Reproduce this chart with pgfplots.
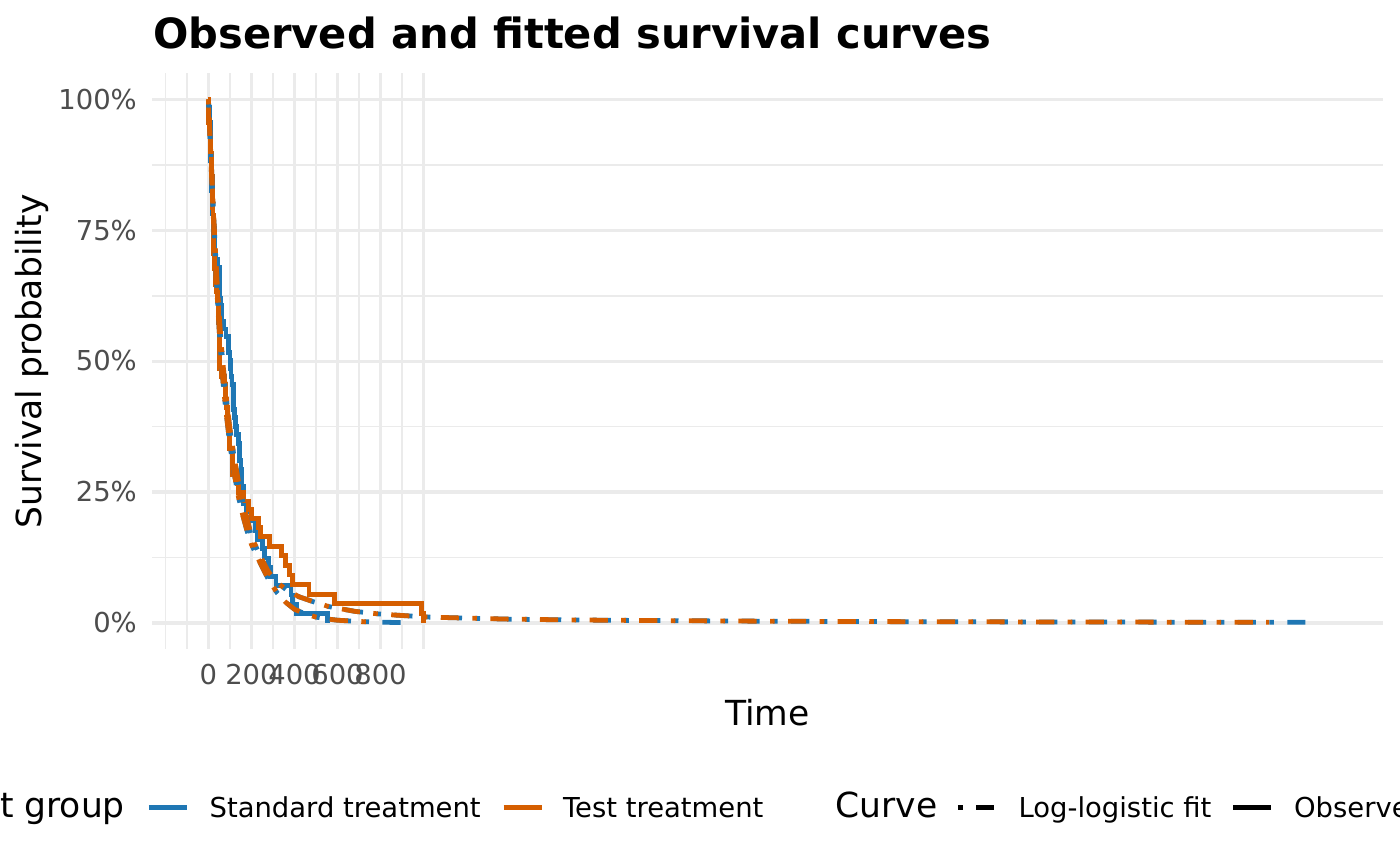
\documentclass[border=0pt]{standalone}
\usepackage{pgfplots}
\pgfplotsset{compat=1.18}
\usepackage{fontspec}
\setmainfont{DejaVu Sans}
\definecolor{tabblue}{HTML}{1F77B4}
\definecolor{vermil}{HTML}{D55E00}
\definecolor{grey30}{HTML}{4D4D4D}
\definecolor{grey92}{HTML}{EBEBEB}
\tikzset{dotdash/.style={dash pattern=on 1.5pt off 4.35pt on 5.9pt off 4.35pt}}
\begin{document}
\begin{tikzpicture}
\begin{axis}[
  at={(49.486pt,70.092pt)}, anchor=south west,
  scale only axis, width=399.30pt, height=186.75pt,
  xmin=-260, xmax=5460, ymin=-0.05, ymax=1.05,
  axis line style={draw=none},
  major tick length=0pt, minor tick length=0pt,
  xtick={0,200,400,600,800,1000},
  xticklabels={0,200,400,600,800,{}},
  minor xtick={-200,-100,100,300,500,700,900},
  ytick={0,0.25,0.5,0.75,1},
  yticklabels={0\%,25\%,50\%,75\%,100\%},
  minor ytick={0.125,0.375,0.625,0.875},
  grid=both,
  major grid style={draw=grey92, line width=1.1pt},
  minor grid style={draw=grey92, line width=0.55pt},
  /pgf/number format/assume math mode=true,
  xticklabel style={font=\fontsize{8.9}{10}\selectfont, text=grey30, anchor=base, inner sep=0pt, outer sep=0pt, yshift=-11.68pt},
  yticklabel style={font=\fontsize{8.9}{10}\selectfont, text=grey30, anchor=base east, inner sep=0pt, outer sep=0pt, xshift=-5.1pt, yshift=-3.15pt},
  clip=true,
]
% Observed KM: Standard treatment
\addplot[tabblue, line width=1.55pt, const plot] coordinates {
(0,1) (3,0.98551) (4,0.97101) (7,0.95652) (8,0.92754) (10,0.89855) (11,0.88406)
(12,0.85507) (13,0.84058) (16,0.82609) (18,0.79710) (20,0.78261) (21,0.76812)
(22,0.75362) (27,0.73885) (30,0.72407) (31,0.70929) (35,0.69452) (42,0.67974)
(51,0.66496) (52,0.65019) (54,0.62064) (56,0.60586) (59,0.59108) (63,0.57631)
(72,0.56153) (82,0.54675) (92,0.53197) (95,0.51720) (100,0.50199) (103,0.48630)
(105,0.47061) (110,0.45492) (117,0.42355) (118,0.40786) (122,0.39217) (126,0.37583)
(132,0.35949) (139,0.34315) (143,0.32681) (144,0.31047) (151,0.29413) (153,0.27779)
(156,0.26145) (162,0.22877) (177,0.21243) (200,0.19473) (216,0.17702) (228,0.15932)
(250,0.14162) (260,0.12392) (278,0.10621) (287,0.08851) (314,0.07081) (384,0.05311)
(392,0.03540) (411,0.01770) (553,0)
};
% Observed KM: Test treatment
\addplot[vermil, line width=1.55pt, const plot] coordinates {
(0,1) (1,0.97059) (2,0.95588) (7,0.92647) (8,0.89706) (13,0.88235) (15,0.85294)
(18,0.83824) (19,0.80882) (20,0.79412) (21,0.77941) (24,0.75) (25,0.70588)
(29,0.69118) (30,0.67647) (31,0.66176) (33,0.64706) (36,0.63235) (43,0.61765)
(44,0.60294) (45,0.58824) (48,0.57353) (49,0.55882) (51,0.52941) (52,0.5)
(53,0.48529) (61,0.47059) (73,0.45588) (80,0.42647) (84,0.41124) (87,0.39601)
(90,0.38017) (95,0.36433) (99,0.33265) (111,0.29938) (112,0.28275) (133,0.26612)
(140,0.24948) (164,0.23285) (186,0.21622) (201,0.19959) (231,0.18295) (242,0.16466)
(283,0.14636) (340,0.12807) (357,0.10977) (378,0.09148) (389,0.07318) (467,0.05489)
(587,0.03659) (991,0.01830) (999,0)
};
% Fitted: Standard, lower branch
\addplot[tabblue, line width=1.55pt, dotdash, dash phase=15.1pt] coordinates {
(0,1) (5,0.95) (10,0.90) (20,0.80) (30,0.71) (40,0.63) (50,0.56) (60,0.50) (70,0.45)
(80,0.41) (100,0.34) (120,0.285) (140,0.24) (160,0.205) (180,0.175) (200,0.15)
(240,0.115) (280,0.082) (320,0.057) (360,0.039) (400,0.026) (450,0.017) (500,0.011)
(550,0.0075) (600,0.005) (700,0.0025) (800,0.0012) (900,0.0005)
};
% Fitted: Standard, upper branch
\addplot[tabblue, line width=1.55pt, dotdash, dash phase=15.1pt] coordinates {
(0,1) (10,0.91) (20,0.82) (30,0.73) (40,0.655) (50,0.59) (60,0.53) (80,0.44) (100,0.37)
(120,0.315) (140,0.27) (160,0.232) (200,0.165) (240,0.128) (280,0.097) (320,0.077)
(360,0.064) (420,0.05) (490,0.04) (560,0.031) (680,0.022) (790,0.017) (900,0.014)
(1020,0.011) (1200,0.009) (1400,0.007) (1700,0.0055) (2000,0.0045) (2500,0.0033)
(3000,0.0025) (3500,0.002) (4000,0.0016) (4500,0.0013) (5160,0.001)
};
% Fitted: Test, lower branch
\addplot[vermil, line width=1.55pt, dotdash] coordinates {
(0,1) (5,0.95) (10,0.90) (20,0.80) (30,0.71) (40,0.63) (50,0.56) (60,0.50) (70,0.45)
(80,0.41) (100,0.34) (120,0.285) (140,0.24) (160,0.205) (180,0.175) (200,0.15)
(240,0.115) (280,0.082) (320,0.057) (360,0.039) (400,0.026) (450,0.017) (500,0.011)
(550,0.0075) (600,0.005) (700,0.0025) (790,0.0013)
};
% Fitted: Test, upper branch
\addplot[vermil, line width=1.55pt, dotdash] coordinates {
(0,1) (10,0.91) (20,0.82) (30,0.73) (40,0.655) (50,0.59) (60,0.53) (80,0.44) (100,0.37)
(120,0.315) (140,0.27) (160,0.232) (200,0.165) (240,0.128) (280,0.097) (320,0.077)
(360,0.064) (420,0.05) (490,0.04) (560,0.031) (680,0.022) (790,0.017) (900,0.014)
(1020,0.011) (1200,0.009) (1400,0.007) (1700,0.0055) (2000,0.0045) (2500,0.0033)
(3000,0.0025) (3500,0.002) (4000,0.0016) (4500,0.0013) (4930,0.0011)
};
\end{axis}
\begin{scope}[x=0.3245pt, y=-0.3245pt, shift={(0pt,280.69pt)}]
% title
\node[anchor=base west, inner sep=0pt, font=\fontsize{13.5}{15}\selectfont\bfseries] at (152.5,48.3) {Observed and fitted survival curves};
% axis titles
\node[anchor=base, inner sep=0pt, rotate=90, font=\fontsize{11.2}{13}\selectfont] at (42,361.5) {Survival probability};
\node[anchor=base, inner sep=0pt, font=\fontsize{11.2}{13}\selectfont] at (767.5,726) {Time};
% legend
\node[anchor=base east, inner sep=0pt, font=\fontsize{11.2}{13}\selectfont] at (125.5,818) {Treatment group};
\draw[tabblue, line width=1.55pt] (149,807.3) -- (187,807.3);
\node[anchor=base west, inner sep=0pt, font=\fontsize{8.9}{10}\selectfont] at (209,817.7) {Standard treatment};
\draw[vermil, line width=1.55pt] (503.6,807.3) -- (541.6,807.3);
\node[anchor=base west, inner sep=0pt, font=\fontsize{8.9}{10}\selectfont] at (562.5,817.7) {Test treatment};
\node[anchor=base west, inner sep=0pt, font=\fontsize{11.2}{13}\selectfont] at (835,818) {Curve};
\draw[black, line width=1.55pt, dotdash] (958,807.3) -- (996,807.3);
\node[anchor=base west, inner sep=0pt, font=\fontsize{8.9}{10}\selectfont] at (1018,817.7) {Log-logistic fit};
\draw[black, line width=1.55pt] (1233.5,807.3) -- (1271.5,807.3);
\node[anchor=base west, inner sep=0pt, font=\fontsize{8.9}{10}\selectfont] at (1293.5,817.7) {Observed};
\end{scope}
\pgfresetboundingbox
\path (0pt,0pt) rectangle (454.3pt,280.69pt);
\end{tikzpicture}
\end{document}
